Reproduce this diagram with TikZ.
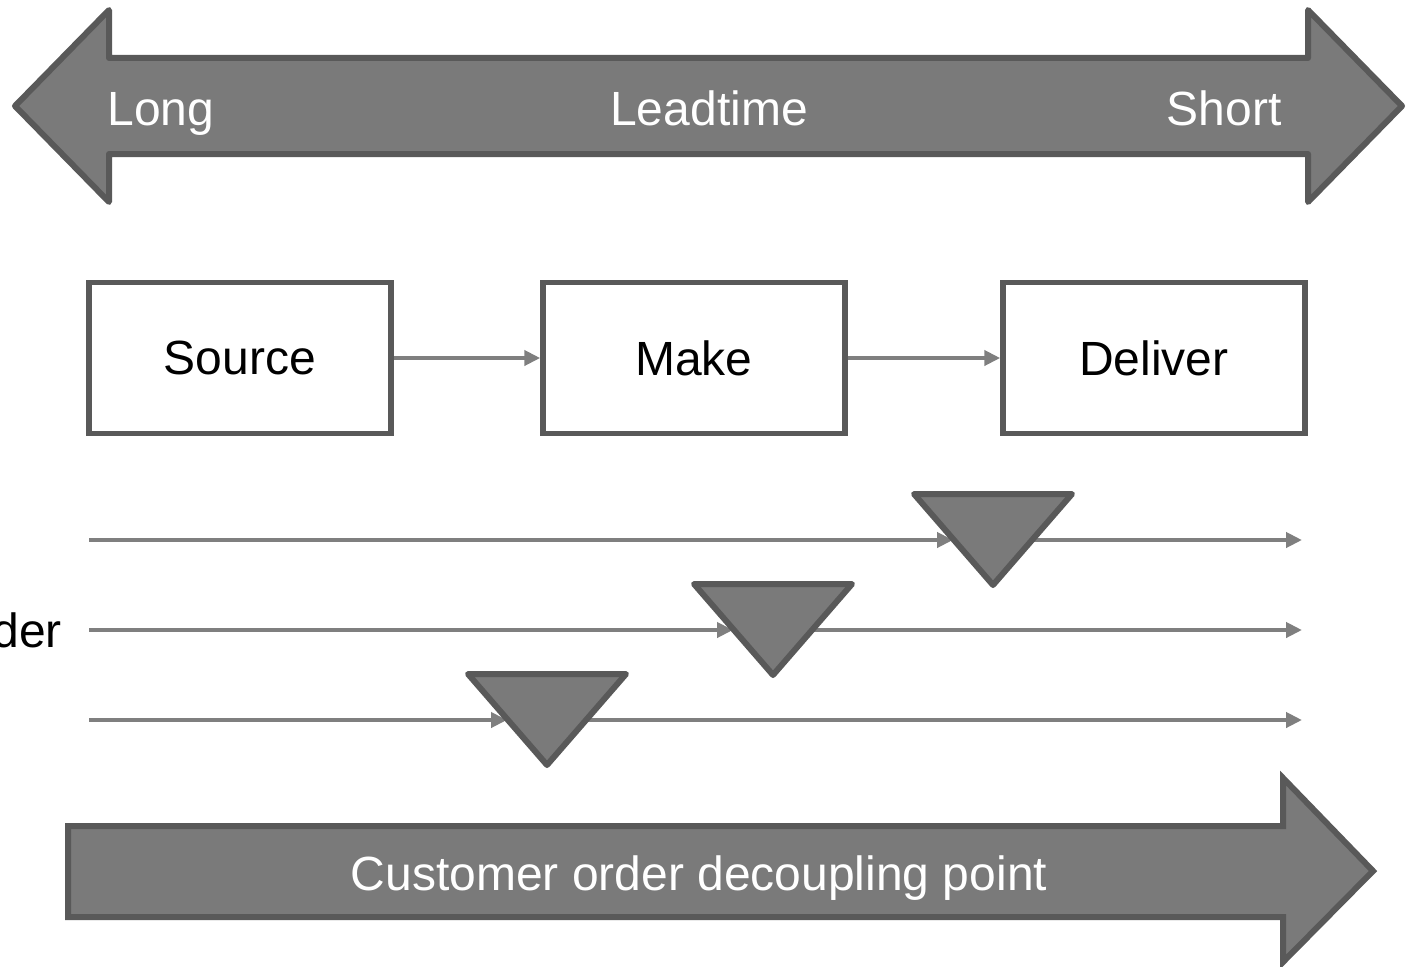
\documentclass[tikz,border=0pt]{standalone}
\usepackage{fontspec}
\setmainfont{Liberation Sans}
\usetikzlibrary{arrows.meta}
\definecolor{shade}{HTML}{7A7A7A}
\definecolor{rim}{HTML}{595959}
\definecolor{wire}{HTML}{7F7F7F}
\begin{document}
\begin{tikzpicture}[x=1pt,y=-1pt,
  big/.style={fill=shade,draw=rim,line width=6pt,line join=round},
  stage/.style={draw=rim,line width=5.5pt,fill=white,minimum width=302pt,
    minimum height=151pt,inner sep=0pt,font=\fontsize{48}{57}\selectfont},
  flow/.style={draw=wire,line width=4pt,-{Triangle[length=16pt,width=15pt]}},
  lbl/.style={font=\fontsize{48}{57}\selectfont,inner sep=0pt},
  valve/.style={fill=shade,draw=rim,line width=6pt,line join=round}]
\useasboundingbox (0,0) rectangle (1412,966);

% lead-time double arrow
\draw[big] (15,106) -- (109,10) -- (109,58) -- (1308,58) -- (1308,10)
  -- (1402,106) -- (1308,202) -- (1308,154) -- (109,154) -- (109,202) -- cycle;
\node[lbl,text=white,anchor=base] (long) at (161,125) {Long};
\node[lbl,text=white,anchor=base] (lead) at (709,125) {Leadtime};
\node[lbl,text=white,anchor=base] (short) at (1224,125) {Short};

% process stages
\node[stage] (src) at (240,358) {Source};
\node[stage] (mk)  at (694,358) {Make};
\node[stage] (dlv) at (1154,358) {Deliver};
\draw[flow] (src.east) -- (mk.west);
\draw[flow] (mk.east) -- (dlv.west);

% order flows with decoupling points
\coordinate (s1) at (89,540);  \coordinate (e1) at (1302,540);
\coordinate (s2) at (89,630);  \coordinate (e2) at (1302,630);
\coordinate (s3) at (89,720);  \coordinate (e3) at (1302,720);
\coordinate (l1) at (953,540); \coordinate (r1) at (1033,540);
\coordinate (l2) at (733,630); \coordinate (r2) at (813,630);
\coordinate (l3) at (507,720); \coordinate (r3) at (587,720);
\draw[flow] (s1) -- (l1);
\draw[flow] (r1) -- (e1);
\draw[flow] (s2) -- (l2);
\draw[flow] (r2) -- (e2);
\draw[flow] (s3) -- (l3);
\draw[flow] (r3) -- (e3);
\draw[valve] (914,494) -- (1072,494) -- (993,585) -- cycle;
\draw[valve] (694,584) -- (852,584) -- (773,675) -- cycle;
\draw[valve] (468,674) -- (626,674) -- (547,765) -- cycle;
\node[lbl,anchor=base east] (ord) at (62,647) {der};

% decoupling point arrow
\draw[big,line join=miter] (68,826) -- (1283,826) -- (1283,778) -- (1373,871)
  -- (1283,962) -- (1283,917) -- (68,917) -- cycle;
\node[lbl,text=white,anchor=base] (codp) at (699,890) {Customer order decoupling point};
\end{tikzpicture}
\end{document}
